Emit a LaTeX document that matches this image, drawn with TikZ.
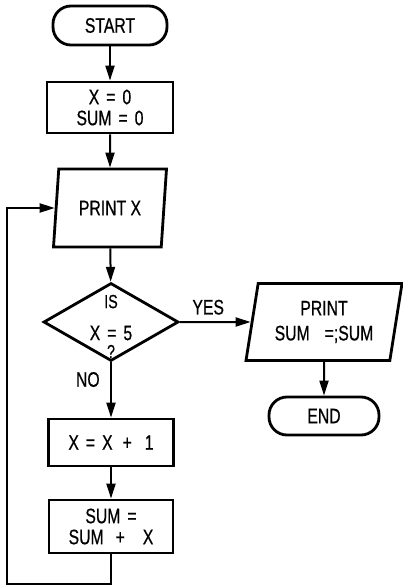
\documentclass[tikz,border=0pt]{standalone}
\usepackage{fontspec}
\setmainfont{Liberation Sans}[FakeStretch=0.75, FakeBold=0.6]
\usetikzlibrary{shapes.geometric, arrows.meta, positioning}
\newcommand{\gap}{\hspace{7pt}}

\begin{document}
\begin{tikzpicture}[
    x=1pt, y=-1pt,
    every node/.style={font=\fontsize{21}{21}\selectfont},
    terminal/.style={rectangle, draw, rounded corners=18pt, line width=2.8pt, align=center},
    process/.style={rectangle, draw, line width=2.8pt, align=center},
    io/.style={trapezium, trapezium left angle=76, trapezium right angle=104, trapezium stretches body, draw, line width=2.8pt, align=center},
    decision/.style={diamond, draw, minimum width=135pt, minimum height=78pt, line width=2.8pt},
    arrow/.style={-{Triangle[length=15pt, width=9pt]}, line width=2pt},
]
\useasboundingbox (0,0) rectangle (403,586);

% main column
\node[terminal, minimum width=114pt, minimum height=39pt] (start) at (110,25.5) {START};
\node[process, minimum width=126pt, minimum height=51pt] (init) at (110,107.5) {X\gap=\gap0\\SUM\gap=\gap0};
\node[io, minimum width=113pt, minimum height=78pt] (printx) at (110,208) {PRINT X};
\node[decision] (test) at (111,322) {};
\node[align=center, yshift=-4.5pt] (testtext) at (test.center) {{\fontsize{19}{21}\selectfont IS}\\[11pt]X\gap=\gap5\\[-3pt]{\fontsize{19}{21}\selectfont ?}};
\node[process, minimum width=125pt, minimum height=47pt] (incx) at (111,442.5) {X\gap=\gap X\hspace{10pt}+\hspace{13pt}1};
\node[process, minimum width=124pt, minimum height=53pt] (addsum) at (111,526.5) {SUM\gap=\\SUM\hspace{12pt}+\hspace{18pt}X};

% right branch
\node[io, minimum width=156pt, minimum height=77pt] (printsum) at (324,322) {PRINT\\[4pt]SUM\hspace{15pt}=;SUM};
\node[terminal, minimum width=110pt, minimum height=38pt] (stop) at (324,416) {END};

\coordinate (loopcorner) at (7,584);

\draw[arrow] (start) -- (init);
\draw[arrow] (init) -- (printx);
\draw[arrow] (printx) -- (test);
\draw[arrow] (test.east) -- node[above=3pt, pos=0.4] (yes) {YES} (printsum.west);
\draw[arrow] (test.south) -- node[left=7pt, pos=0.31] (no) {NO} (incx.north);
\draw[arrow] (incx) -- (addsum);
\draw[arrow] (printsum) -- (stop);
\draw[arrow] (addsum.south) |- (loopcorner) |- (printx.west);
\end{tikzpicture}
\end{document}
